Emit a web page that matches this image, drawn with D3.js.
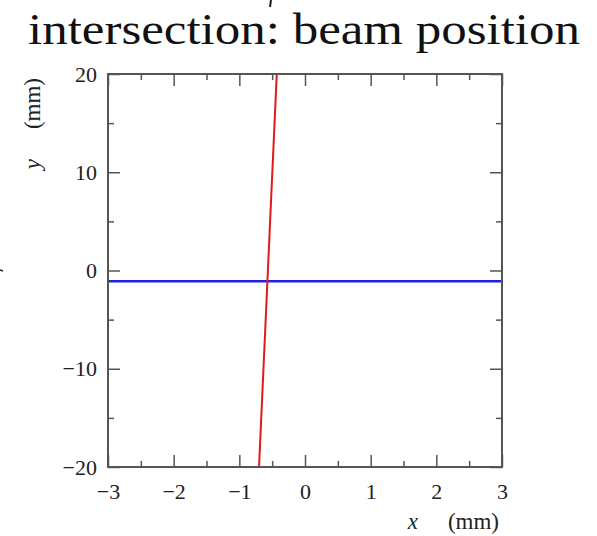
<!DOCTYPE html>
<html>
<head>
<meta charset="utf-8">
<script src="https://cdn.jsdelivr.net/npm/d3@7"></script>
<style>
  body { margin: 0; background: #fff; }
  svg text { font-family: "Liberation Serif", "DejaVu Serif", serif; fill: #222; }
</style>
</head>
<body>
<div id="chart"></div>
<script>

// datos del grafico
var xMajor = [-3, -2, -1, 0, 1, 2, 3];
var xMinor = [-2.5, -1.5, -0.5, 0.5, 1.5, 2.5];
var yMajor = [-20, -10, 0, 10, 20];
var yMinor = [-15, -5, 5, 15];
var redX = [-0.43, -0.70];
var redY = [20, -20];
var blueX = [-3, 3];
var blueY = [-1.1, -1.1];

var ancho = 597, alto = 536;
var izq = 108, der = 502, arriba = 74, abajo = 467;

var svg = d3.select("#chart").append("svg")
    .attr("width", ancho)
    .attr("height", alto);

var x = d3.scaleLinear().domain([-3, 3]).range([izq, der]);
var y = d3.scaleLinear().domain([-20, 20]).range([abajo, arriba]);

// titulo
svg.append("text")
    .attr("x", 28)
    .attr("y", 44)
    .attr("textLength", 552)
    .attr("lengthAdjust", "spacingAndGlyphs")
    .style("font-size", "45px")
    .style("fill", "#111")
    .text("intersection: beam position");

// pequeñas marcas sueltas del original
svg.append("line").attr("x1", 271).attr("y1", 0).attr("x2", 270).attr("y2", 7)
    .attr("stroke", "#222").attr("stroke-width", 2);
svg.append("line").attr("x1", 0).attr("y1", 270).attr("x2", 3).attr("y2", 271)
    .attr("stroke", "#222").attr("stroke-width", 1.5);

function ejes(g, eje) {
    g.call(eje);
    g.select(".domain").remove();
    g.selectAll(".tick line").attr("stroke", "#555").attr("stroke-width", 1.5);
}

function etiqueta(d) { return d < 0 ? "\u2212" + Math.abs(d) : d; }

// ejes con etiquetas
var gx = svg.append("g").attr("transform", "translate(0," + abajo + ")");
ejes(gx, d3.axisBottom(x).tickValues(xMajor).tickSizeInner(-12).tickSizeOuter(0).tickPadding(16)
    .tickFormat(etiqueta));
gx.selectAll("text").style("font-size", "22px");

var gy = svg.append("g").attr("transform", "translate(" + izq + ",0)");
ejes(gy, d3.axisLeft(y).tickValues(yMajor).tickSizeInner(-12).tickSizeOuter(0).tickPadding(11)
    .tickFormat(etiqueta));
gy.selectAll("text").style("font-size", "22px");

// ticks menores y ejes opuestos
ejes(svg.append("g").attr("transform", "translate(0," + abajo + ")"),
    d3.axisBottom(x).tickValues(xMinor).tickSizeInner(-6).tickSizeOuter(0).tickFormat(""));
ejes(svg.append("g").attr("transform", "translate(" + izq + ",0)"),
    d3.axisLeft(y).tickValues(yMinor).tickSizeInner(-6).tickSizeOuter(0).tickFormat(""));
ejes(svg.append("g").attr("transform", "translate(0," + arriba + ")"),
    d3.axisTop(x).tickValues(xMajor).tickSizeInner(-12).tickSizeOuter(0).tickFormat(""));
ejes(svg.append("g").attr("transform", "translate(0," + arriba + ")"),
    d3.axisTop(x).tickValues(xMinor).tickSizeInner(-6).tickSizeOuter(0).tickFormat(""));
ejes(svg.append("g").attr("transform", "translate(" + der + ",0)"),
    d3.axisRight(y).tickValues(yMajor).tickSizeInner(-12).tickSizeOuter(0).tickFormat(""));
ejes(svg.append("g").attr("transform", "translate(" + der + ",0)"),
    d3.axisRight(y).tickValues(yMinor).tickSizeInner(-6).tickSizeOuter(0).tickFormat(""));

// lineas de datos
var linea = d3.line()
    .x(function (d) { return x(d[0]); })
    .y(function (d) { return y(d[1]); });

svg.append("path")
    .datum(d3.zip(blueX, blueY))
    .attr("d", linea)
    .attr("fill", "none")
    .attr("stroke", "#2020dd")
    .attr("stroke-width", 2.5);

svg.append("path")
    .datum(d3.zip(redX, redY))
    .attr("d", linea)
    .attr("fill", "none")
    .attr("stroke", "#e01a1a")
    .attr("stroke-width", 2);

// marco
svg.append("rect")
    .attr("x", izq).attr("y", arriba)
    .attr("width", der - izq).attr("height", abajo - arriba)
    .attr("fill", "none")
    .attr("stroke", "#555")
    .attr("stroke-width", 2);

// etiquetas de los ejes
var ly = svg.append("text")
    .attr("transform", "translate(40,78) rotate(-90)")
    .attr("text-anchor", "end")
    .style("font-size", "23px");
ly.append("tspan").style("font-style", "italic").text("y");
ly.append("tspan").attr("dx", 30).text("(mm)");

var lx = svg.append("text")
    .attr("x", 499)
    .attr("y", 529)
    .attr("text-anchor", "end")
    .style("font-size", "23px");
lx.append("tspan").style("font-style", "italic").text("x");
lx.append("tspan").attr("dx", 30).text("(mm)");

</script>
</body>
</html>
